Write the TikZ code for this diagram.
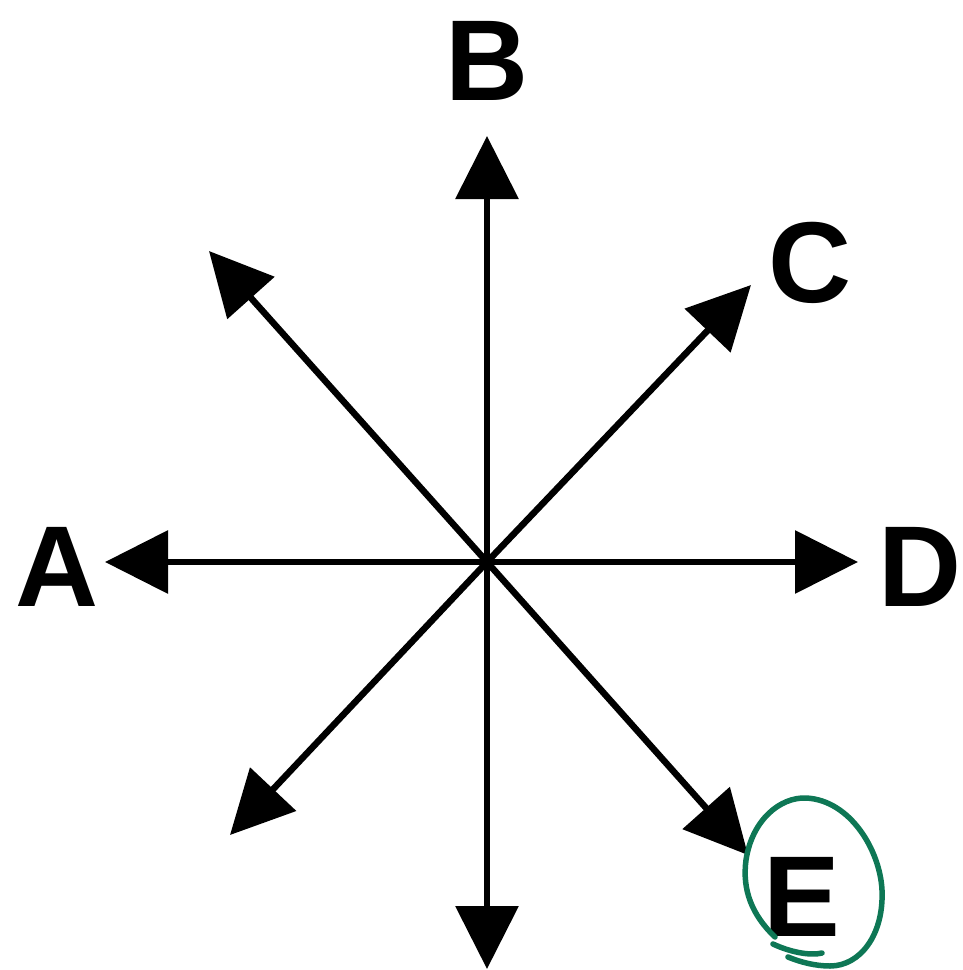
\documentclass[tikz,border=0pt]{standalone}
\usepackage{fontspec}
\setmainfont{Liberation Sans}
\usetikzlibrary{arrows.meta}
\definecolor{pen}{HTML}{0E7755}
\tikzset{
  ray/.style={line width=6.5pt, -{Triangle[length=63pt,width=62pt]}},
  lbl/.style={inner sep=0pt, font=\fontsize{115}{115}\selectfont\bfseries},
  ink/.style={draw=pen, line width=5.5pt, line cap=round, line join=round}
}
\begin{document}
\begin{tikzpicture}[x=1pt,y=-1pt]
\useasboundingbox (0,0) rectangle (963,970);
\coordinate (O) at (487,562);
\coordinate (tN) at (487,136);
\coordinate (tS) at (487,969);
\coordinate (tW) at (105,562);
\coordinate (tE) at (858,562);
\coordinate (tNW) at (209,251);
\coordinate (tNE) at (751,285);
\coordinate (tSW) at (230,835);
\coordinate (tSE) at (748,855);
\foreach \t in {tN,tS,tW,tE,tNW,tNE,tSW,tSE}
  \draw[ray, shorten <=-2pt] (O) -- (\t);
\node[lbl] (B) at (487,61) {B};
\node[lbl] (C) at (810,263) {C};
\node[lbl] (A) at (57,567) {A};
\node[lbl] (D) at (920,567) {D};
\node[lbl] (E) at (802,897) {E};
\draw[ink] (775,937) .. controls (752,915) and (742,890) .. (746,860)
  .. controls (752,820) and (780,797) .. (806,798)
  .. controls (850,800) and (880,850) .. (882,890)
  .. controls (884,935) and (860,966) .. (830,966)
  .. controls (815,966) and (800,962) .. (788,957);
\draw[ink] (773,944) .. controls (790,952) and (810,956) .. (822,953);
\end{tikzpicture}
\end{document}
